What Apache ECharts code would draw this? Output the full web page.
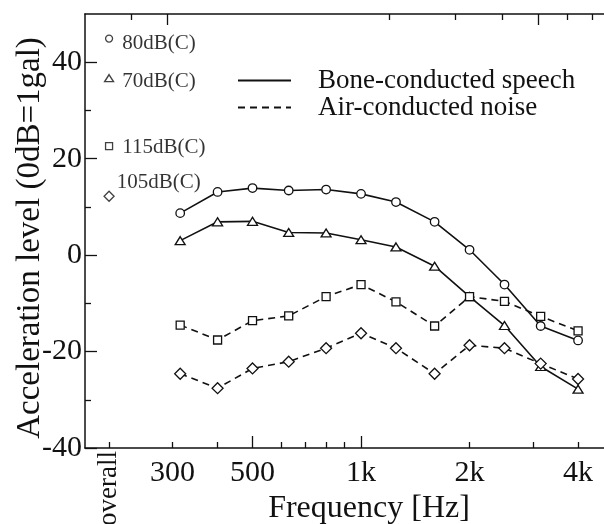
<!DOCTYPE html>
<html><head><meta charset="utf-8">
<script src="https://cdn.jsdelivr.net/npm/echarts@6/dist/echarts.min.js"></script>
<style>html,body{margin:0;padding:0;background:#fff}#c{width:604px;height:524px}</style>
</head><body><div id="c"></div>
<script>
// ---- data ----
const freqs = [315, 400, 500, 630, 800, 1000, 1250, 1600, 2000, 2500, 3150, 4000];
const bone80 = [8.7, 13.1, 13.9, 13.4, 13.6, 12.7, 11.0, 6.9, 1.1, -6.1, -14.7, -17.7];
const bone70 = [3.0, 6.9, 7.0, 4.7, 4.6, 3.2, 1.7, -2.3, -8.6, -14.6, -23.1, -27.8];
const air115 = [-14.5, -17.6, -13.6, -12.6, -8.6, -6.1, -9.7, -14.7, -8.6, -9.6, -12.7, -15.7];
const air105 = [-24.6, -27.6, -23.5, -22.1, -19.3, -16.2, -19.3, -24.6, -18.7, -19.3, -22.5, -25.7];
const overallLabels = ['80dB(C)', '70dB(C)', '115dB(C)', '105dB(C)'];
const overallValues = [44.9, 36.7, 22.6, 12.2];
const overallPos = 200;           // frequency-equivalent position of the "overall" column
const overallText = 'overall';
const xLabelFreqs = [300, 500, 1000, 2000, 4000];
const xTickLabels = ['300', '500', '1k', '2k', '4k'];
const xMajorTicks = [500, 1000];
const xMinorTicks = [200, 300, 400, 600, 700, 800, 900, 2000, 3000, 4000];
const topMajorTicks = [290, 3100];
const topMinorTicks = [230, 1200, 1820, 2460, 3730, 4370];
const yLabelValues = [-40, -20, 0, 20, 40];
const yMinorTicks = [-30, -10, 10, 30];
const seriesNames = ['Bone-conducted speech', 'Air-conducted noise'];
const xTitle = 'Frequency [Hz]';
const yTitle = 'Acceleration level (0dB=1gal)';

// ---- styling ----
const FONT = 'Liberation Serif';
const INK = '#111111';
const XMIN = Math.log10(171.5), XMAX = Math.log10(5000);
const lg = f => Math.log10(f);

function xAxisBase(pos) {
  return {
    type: 'value', min: XMIN, max: XMAX, position: pos, gridIndex: 0,
    splitLine: { show: false },
    axisLine: { show: false, onZero: false, lineStyle: { color: INK, width: 1.5 } },
    axisTick: { show: false },
    axisLabel: { show: false }
  };
}
const xAxes = [];
let a = xAxisBase('bottom');
a.axisLine.show = true;
a.axisTick = { show: true, inside: true, length: 12, customValues: xMajorTicks.map(lg), lineStyle: { color: INK, width: 1.3 } };
a.axisLabel = {
  show: true, customValues: xLabelFreqs.map(lg), margin: 10, fontSize: 30, fontFamily: FONT, color: INK,
  formatter: v => { const i = xLabelFreqs.findIndex(f => Math.abs(lg(f) - v) < 1e-6); return i >= 0 ? xTickLabels[i] : ''; }
};
a.name = xTitle; a.nameLocation = 'middle'; a.nameGap = 40;
a.nameTextStyle = { fontSize: 32, fontFamily: FONT, color: INK, padding: [0, 0, 0, 40] };
xAxes.push(a);
a = xAxisBase('bottom');
a.axisTick = { show: true, inside: true, length: 6, customValues: xMinorTicks.map(lg), lineStyle: { color: INK, width: 1.3 } };
xAxes.push(a);
a = xAxisBase('bottom');
a.axisLabel = { show: true, customValues: [lg(overallPos)], rotate: 90, margin: 3, fontSize: 27, fontFamily: FONT, color: INK, formatter: () => overallText };
xAxes.push(a);
a = xAxisBase('top');
a.axisLine.show = true;
a.axisTick = { show: true, inside: true, length: 6, customValues: topMinorTicks.map(lg), lineStyle: { color: INK, width: 1.3 } };
xAxes.push(a);
a = xAxisBase('top');
a.axisTick = { show: true, inside: true, length: 11, customValues: topMajorTicks.map(lg), lineStyle: { color: INK, width: 1.3 } };
xAxes.push(a);

const yAxes = [
  {
    type: 'value', min: -40, max: 50, interval: 10, position: 'left',
    splitLine: { show: false },
    axisLine: { show: true, onZero: false, lineStyle: { color: INK, width: 1.5 } },
    axisTick: { show: true, inside: true, length: 12, customValues: yLabelValues, lineStyle: { color: INK, width: 1.3 } },
    axisLabel: { show: true, customValues: yLabelValues, margin: 3, fontSize: 30, fontFamily: FONT, color: INK },
    name: yTitle, nameLocation: 'middle', nameGap: 38, nameMoveOverlap: false,
    nameTextStyle: { fontSize: 33, fontFamily: FONT, color: INK, padding: [0, 14, 0, 0] }
  },
  {
    type: 'value', min: -40, max: 50, interval: 10, position: 'left',
    splitLine: { show: false }, axisLine: { show: false, onZero: false },
    axisTick: { show: true, inside: true, length: 6, customValues: yMinorTicks, lineStyle: { color: INK, width: 1.3 } },
    axisLabel: { show: false }
  }
];

function lineSeries(vals, symbol, size, dashed) {
  return {
    type: 'line', xAxisIndex: 0, yAxisIndex: 0,
    data: freqs.map((f, i) => [lg(f), vals[i]]),
    symbol: symbol, symbolSize: size, showAllSymbol: true,
    itemStyle: { color: '#fff', borderColor: INK, borderWidth: 1.3 },
    lineStyle: { color: INK, width: 1.6, type: dashed ? [7, 5] : 'solid' },
    z: 3, animation: false, emphasis: { disabled: true }
  };
}
const overallSymbols = ['circle', 'triangle', 'rect', 'diamond'];
const overallSizes = [7, [9, 7], 7, 10];
const overallLabelOpts = [
  { distance: 9, offset: [0, 5] },
  { distance: 8, offset: [0, 3] },
  { distance: 9, offset: [0, 1] },
  { distance: 2, offset: [0, -14] }
];
const overallSeries = {
  type: 'scatter', xAxisIndex: 0, yAxisIndex: 0, animation: false, z: 4,
  emphasis: { disabled: true },
  data: overallValues.map((v, i) => ({
    value: [lg(overallPos), v],
    symbol: overallSymbols[i], symbolSize: overallSizes[i],
    label: Object.assign({ show: true, position: 'right', formatter: overallLabels[i],
      fontSize: 21, fontFamily: FONT, color: '#000' }, overallLabelOpts[i])
  })),
  itemStyle: { color: '#fff', borderColor: INK, borderWidth: 1.3 }
};

const chart = echarts.init(document.getElementById('c'), null, { renderer: 'canvas' });
chart.setOption({
  animation: false,
  backgroundColor: '#fff',
  grid: { left: 85, top: 14, width: 528, height: 434, containLabel: false, outerBoundsMode: 'none' },
  xAxis: xAxes,
  yAxis: yAxes,
  legend: {
    data: seriesNames, orient: 'vertical', left: 232, top: 62,
    itemWidth: 53, itemHeight: 14, itemGap: 0,
    itemStyle: { color: 'rgba(0,0,0,0)', borderWidth: 0, opacity: 0 },
    textStyle: { fontSize: 27, fontFamily: FONT, color: INK, lineHeight: 26, padding: [0, 0, 0, 22] },
    selectedMode: false
  },
  series: [
    lineSeries(bone80, 'circle', 8.5, false),
    lineSeries(bone70, 'triangle', [10, 8], false),
    lineSeries(air115, 'rect', 8, true),
    lineSeries(air105, 'diamond', 11, true),
    overallSeries,
    { name: seriesNames[0], type: 'line', data: [], symbol: 'none', lineStyle: { color: INK, width: 1.6, type: 'solid' }, itemStyle: { color: 'rgba(0,0,0,0)' } },
    { name: seriesNames[1], type: 'line', data: [], symbol: 'none', lineStyle: { color: INK, width: 1.6, type: [7, 5] }, itemStyle: { color: 'rgba(0,0,0,0)' } }
  ]
});
</script></body></html>
